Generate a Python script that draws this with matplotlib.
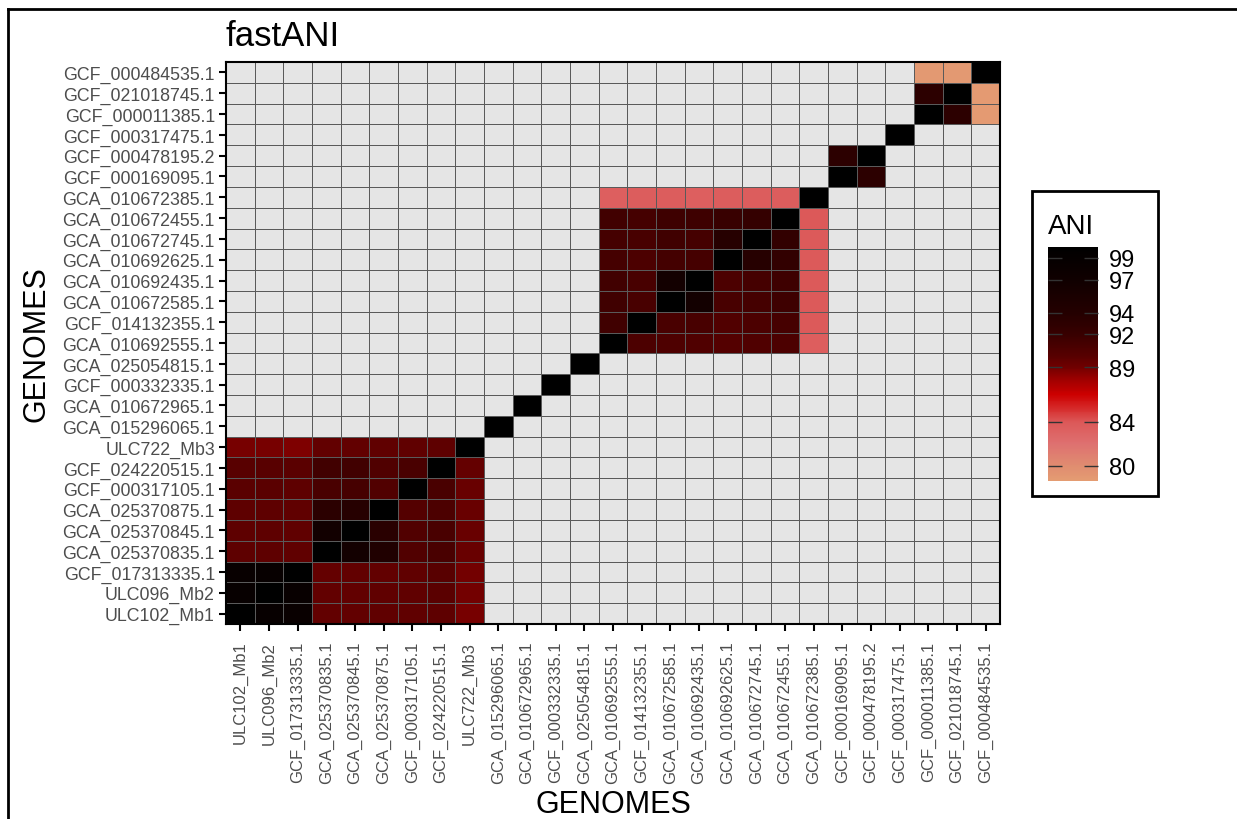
import numpy as np
import matplotlib
matplotlib.use("Agg")
from matplotlib import pyplot as plt
from matplotlib.colors import LinearSegmentedColormap
from matplotlib.patches import Rectangle
from matplotlib.lines import Line2D

plt.rcParams['font.family'] = ['Liberation Sans', 'DejaVu Sans']

# genome order (x left->right, y bottom->top)
genomes = ["ULC102_Mb1", "ULC096_Mb2", "GCF_017313335.1", "GCA_025370835.1",
           "GCA_025370845.1", "GCA_025370875.1", "GCF_000317105.1", "GCF_024220515.1",
           "ULC722_Mb3", "GCA_015296065.1", "GCA_010672965.1", "GCF_000332335.1",
           "GCA_025054815.1", "GCA_010692555.1", "GCF_014132355.1", "GCA_010672585.1",
           "GCA_010692435.1", "GCA_010692625.1", "GCA_010672745.1", "GCA_010672455.1",
           "GCA_010672385.1", "GCF_000169095.1", "GCF_000478195.2", "GCF_000317475.1",
           "GCF_000011385.1", "GCF_021018745.1", "GCF_000484535.1"]

# ANI blocks: rows = query genome, cols = reference genome
group_a = genomes[0:9]
ani_a = [
    [100, 98.6, 98.4, 89.6, 89.6, 89.7, 89.7, 89.8, 88.8],
    [98.7, 100, 98.5, 89.6, 89.6, 89.7, 89.7, 89.9, 88.9],
    [98.5, 98.6, 100, 89.5, 89.6, 89.6, 89.7, 90.0, 88.9],
    [89.8, 89.8, 89.7, 100, 96.5, 94.5, 90.4, 90.9, 89.3],
    [89.8, 89.8, 89.7, 96.6, 100, 93.5, 90.4, 90.9, 89.3],
    [89.8, 89.8, 89.7, 93.3, 93.8, 100, 90.3, 90.8, 89.3],
    [89.9, 89.9, 89.8, 90.9, 91.1, 90.4, 100, 90.9, 89.3],
    [90.0, 90.0, 89.9, 91.4, 91.4, 90.5, 90.9, 100, 89.5],
    [88.8, 88.8, 88.7, 89.6, 89.6, 89.7, 89.7, 89.8, 100],
]
group_b = genomes[13:21]
ani_b = [
    [100, 90.8, 90.6, 90.5, 90.3, 90.5, 90.8, 83.5],
    [91.5, 100, 90.9, 91.0, 90.4, 90.8, 91.1, 83.8],
    [91.5, 91.0, 100, 96.5, 91.0, 91.2, 91.6, 83.8],
    [91.4, 91.0, 96.5, 100, 90.8, 91.2, 91.6, 83.8],
    [91.2, 90.8, 91.3, 91.2, 100, 93.8, 92.6, 83.8],
    [91.2, 91.0, 91.5, 91.2, 93.8, 100, 92.6, 83.8],
    [91.4, 91.2, 91.6, 91.6, 92.0, 92.4, 100, 83.9],
    [83.4, 83.6, 83.6, 83.4, 83.6, 83.6, 83.6, 100],
]
group_c = ["GCF_000169095.1", "GCF_000478195.2"]
ani_c = [
    [100, 93.2],
    [93.2, 100],
]
group_d = ["GCF_000011385.1", "GCF_021018745.1", "GCF_000484535.1"]
ani_d = [
    [100, 93.2, 78.8],
    [93.2, 100, 78.8],
    [78.9, 78.9, 100],
]
singletons = ["GCA_015296065.1", "GCA_010672965.1", "GCF_000332335.1",
              "GCA_025054815.1", "GCF_000317475.1"]

cbar_ticks = [80, 84, 89, 92, 94, 97, 99]

# build the matrix
n = len(genomes)
idx = {g: i for i, g in enumerate(genomes)}
mat = np.full((n, n), np.nan)
for grp, vals in [(group_a, ani_a), (group_b, ani_b), (group_c, ani_c), (group_d, ani_d)]:
    for r, gr in enumerate(grp):
        for c, gc in enumerate(grp):
            mat[idx[gr], idx[gc]] = vals[r][c]
for g in singletons:
    mat[idx[g], idx[g]] = 100

vmin, vmax = 78.6, 100
anchors = [(78.6, "#e49c72"), (80, "#e08c70"), (82, "#de7070"), (84, "#dc5858"),
           (85.5, "#d42020"), (86.5, "#cc0000"), (88, "#9a0000"), (89, "#700000"),
           (90, "#580000"), (92, "#380000"), (94, "#240000"), (97, "#100000"),
           (100, "#000000")]
cmap = LinearSegmentedColormap.from_list(
    "ani", [((v - vmin) / (vmax - vmin), c) for v, c in anchors])
cmap.set_bad("#e5e5e5")

fig = plt.figure(figsize=(12.37, 8.2), dpi=100)
ax = fig.add_axes([226 / 1237, 1 - 625 / 820, 774 / 1237, 562 / 820])
mesh = ax.pcolormesh(np.ma.masked_invalid(mat), cmap=cmap, vmin=vmin, vmax=vmax,
                     edgecolor="#5a5a5a", linewidth=0.6)
ax.set_xlim(0, n)
ax.set_ylim(0, n)
ax.set_xticks(np.arange(n) + 0.5)
ax.set_yticks(np.arange(n) + 0.5)
ax.set_xticklabels(genomes, rotation=90, fontsize=12, color="#4d4d4d")
ax.set_yticklabels(genomes, fontsize=12.8, color="#4d4d4d")
ax.tick_params(length=5, width=1.5, color="black", pad=3)
ax.tick_params(axis="x", pad=7)
for s in ax.spines.values():
    s.set_linewidth(1.5)
ax.set_xlabel("GENOMES", fontsize=22, labelpad=4)
ax.set_ylabel("GENOMES", fontsize=22, labelpad=8)
ax.set_title("fastANI", fontsize=25, loc="left", pad=12)

# colorbar in a legend box
cax = fig.add_axes([1048 / 1237, 1 - 482 / 820, 50 / 1237, 234 / 820])
cb = fig.colorbar(mesh, cax=cax, ticks=cbar_ticks)
cb.outline.set_visible(False)
cax.tick_params(axis="y", direction="in", length=10, width=1, color="#333333",
                left=True, right=True, labelsize=17, pad=8)
fig.add_artist(Rectangle((1032 / 1237, 1 - 497 / 820), 126 / 1237, 305 / 820,
                         transform=fig.transFigure, fill=False, lw=2, ec="black"))
fig.text(1048 / 1237, 1 - 227 / 820, "ANI", fontsize=20, va="center", ha="left")

# outer frame (left and top edges)
fig.add_artist(Line2D([8 / 1237, 8 / 1237], [0, 1 - 10 / 820], transform=fig.transFigure,
                      color="black", lw=2))
fig.add_artist(Line2D([8 / 1237, 1], [1 - 10 / 820, 1 - 10 / 820], transform=fig.transFigure,
                      color="black", lw=2))

fig.savefig("out.png", dpi=100)
